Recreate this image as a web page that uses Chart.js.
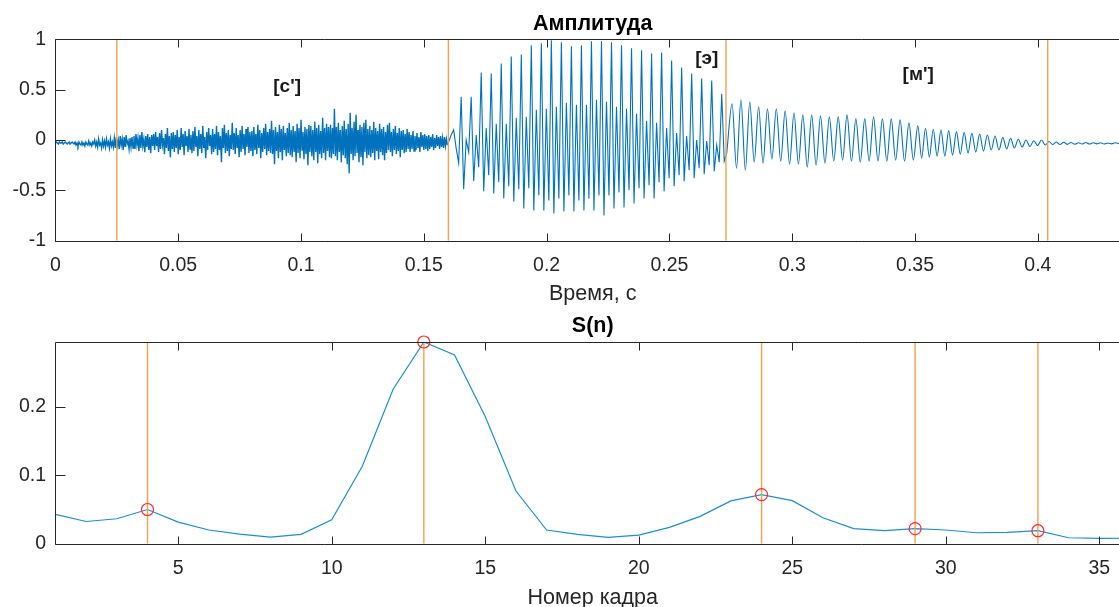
<!DOCTYPE html>
<html>
<head>
<meta charset="utf-8">
<script src="https://cdn.jsdelivr.net/npm/chart.js@4"></script>
<style>
html, body { margin: 0; padding: 0; background: #fff; overflow: hidden; width: 1119px; height: 607px; }
canvas { position: absolute; left: 0; }
#wave { top: 0; }
#energy { top: 300px; }
</style>
</head>
<body>
<canvas id="wave" width="1140" height="310"></canvas>
<canvas id="energy" width="1140" height="314"></canvas>
<script>
// --- signal ---
// fricative [с'] : 0 .. 0.16 s, one sample every 0.4 ms
const noiseStart = 0, noiseStep = 0.0004;
const noiseAmp = [
  -0.03,-0.02,-0.03,-0.04,-0.02,-0.03,-0.03,-0.02,-0.04,-0.03,-0.02,-0.03,-0.04,-0.03,-0.02,-0.04,-0.03,-0.02,-0.03,-0.04,
  -0.02,-0.05,-0.03,-0.06,-0.02,-0.04,-0.05,-0.02,-0.05,-0.03,-0.06,-0.02,-0.04,-0.05,-0.01,-0.05,-0.03,-0.06,-0.02,-0.04,
  0.00,-0.06,-0.02,-0.07,0.01,-0.05,-0.03,-0.08,0.00,-0.06,-0.01,-0.07,0.01,-0.05,-0.02,-0.08,0.01,-0.06,-0.02,-0.07,
  0.02,-0.08,0.03,-0.06,0.00,-0.09,0.04,-0.05,0.01,-0.10,0.03,-0.07,0.05,-0.04,-0.01,-0.09,0.02,-0.07,0.03,-0.08,
  0.04,-0.09,0.06,-0.05,0.02,-0.11,0.05,-0.08,0.08,-0.06,0.01,-0.12,0.04,-0.07,0.06,-0.10,0.03,-0.13,0.05,-0.06,
  0.06,-0.10,0.08,-0.06,0.03,-0.12,0.07,-0.09,0.10,-0.05,0.02,-0.14,0.06,-0.08,0.12,-0.11,0.04,-0.17,0.07,-0.09,
  0.08,-0.12,0.05,-0.08,0.10,-0.14,0.03,-0.10,0.12,-0.07,0.06,-0.15,0.09,-0.06,0.04,-0.12,0.11,-0.09,0.05,-0.13,
  0.09,-0.11,0.13,-0.07,0.04,-0.16,0.10,-0.09,0.06,-0.13,0.14,-0.08,0.03,-0.18,0.08,-0.10,0.12,-0.06,0.05,-0.14,
  0.11,-0.12,0.06,-0.09,0.14,-0.15,0.08,-0.10,0.04,-0.22,0.12,-0.08,0.15,-0.13,0.07,-0.11,0.10,-0.16,0.05,-0.09,
  0.17,-0.10,0.07,-0.14,0.12,-0.08,0.05,-0.17,0.10,-0.12,0.14,-0.09,0.06,-0.15,0.11,-0.07,0.13,-0.13,0.08,-0.11,
  0.09,-0.16,0.13,-0.10,0.06,-0.14,0.15,-0.08,0.10,-0.18,0.07,-0.12,0.12,-0.09,0.16,-0.15,0.08,-0.11,0.11,-0.13,
  0.19,-0.14,0.10,-0.24,0.13,-0.11,0.08,-0.18,0.15,-0.12,0.11,-0.20,0.14,-0.10,0.07,-0.16,0.12,-0.13,0.17,-0.15,
  0.10,-0.17,0.14,-0.12,0.09,-0.22,0.16,-0.13,0.12,-0.18,0.20,-0.10,0.08,-0.19,0.13,-0.14,0.11,-0.25,0.15,-0.12,
  0.14,-0.16,0.10,-0.20,0.18,-0.12,0.12,-0.23,0.15,-0.14,0.09,-0.18,0.22,-0.13,0.12,-0.20,0.16,-0.11,0.13,-0.17,
  0.15,-0.18,0.12,-0.14,0.31,-0.16,0.13,-0.20,0.17,-0.12,0.10,-0.22,0.14,-0.15,0.19,-0.18,0.11,-0.24,0.16,-0.33,
  0.27,-0.14,0.12,-0.20,0.18,-0.16,0.25,-0.13,0.10,-0.22,0.15,-0.17,0.13,-0.25,0.17,-0.12,0.20,-0.18,0.11,-0.15,
  0.14,-0.17,0.10,-0.13,0.18,-0.20,0.12,-0.11,0.09,-0.19,0.16,-0.12,0.11,-0.15,0.13,-0.20,0.08,-0.13,0.15,-0.10,
  0.17,-0.12,0.08,-0.16,0.11,-0.10,0.14,-0.14,0.07,-0.11,0.12,-0.17,0.09,-0.10,0.10,-0.13,0.06,-0.12,0.11,-0.09,
  0.08,-0.12,0.05,-0.09,0.09,-0.11,0.04,-0.10,0.07,-0.08,0.03,-0.12,0.08,-0.07,0.05,-0.10,0.06,-0.09,0.04,-0.11,
  0.05,-0.09,0.03,-0.07,0.06,-0.10,0.02,-0.08,0.05,-0.06,0.03,-0.09,0.04,-0.07,0.02,-0.08,0.03,-0.06,0.01,-0.05
];
// vowel [э] : quarter-period samples (peak, trough, small peak, trough)
const vowelStart = 0.1601, vowelStep = 0.00102;
const vowelAmp = [
  -0.02, 0.05, 0.10, -0.08, -0.23,
  0.43,-0.49,0.00,-0.12,  0.43,-0.41,0.05,-0.27,  0.67,-0.51,0.12,-0.35,  0.66,-0.53,0.16,-0.42,
  0.76,-0.58,0.16,-0.46,  0.83,-0.61,0.22,-0.49,  0.85,-0.68,0.23,-0.48,  0.94,-0.70,0.30,-0.55,
  0.96,-0.70,0.31,-0.60,  0.99,-0.73,0.33,-0.58,  0.97,-0.71,0.37,-0.55,  0.93,-0.71,0.35,-0.60,
  0.94,-0.70,0.35,-0.58,  0.98,-0.70,0.40,-0.55,  0.98,-0.75,0.38,-0.55,  0.97,-0.68,0.33,-0.52,
  0.94,-0.67,0.31,-0.50,  0.91,-0.63,0.26,-0.48,  0.89,-0.58,0.19,-0.45,  0.86,-0.58,0.17,-0.42,
  0.87,-0.51,0.12,-0.38,  0.79,-0.46,0.07,-0.35,  0.72,-0.41,0.04,-0.30,  0.66,-0.38,0.00,-0.28,
  0.61,-0.34,-0.01,-0.25, 0.59,-0.31,-0.05,-0.22,
  0.46,-0.21,-0.13
];
// nasal [м'] : half-period samples (peak, trough)
const nasalStart = 0.2755, nasalStep = 0.0018;
const nasalAmp = [
  0.36,-0.28, 0.40,-0.30, 0.38,-0.22, 0.33,-0.23, 0.31,-0.19, 0.31,-0.21, 0.29,-0.24, 0.27,-0.24,
  0.25,-0.27, 0.25,-0.25, 0.24,-0.23, 0.23,-0.21, 0.23,-0.20, 0.25,-0.21, 0.21,-0.22, 0.21,-0.21,
  0.23,-0.21, 0.21,-0.21, 0.21,-0.20, 0.20,-0.21, 0.17,-0.20, 0.14
];
const decayStart = 0.35267, decayStep = 0.001574;
const decayAmp = [
  -0.18,0.116, -0.17,0.107, -0.16,0.10, -0.16,0.093, -0.15,0.083, -0.14,0.076, -0.13,0.066, -0.12,0.06,
  -0.11,0.05, -0.10,0.04, -0.10,0.026, -0.09,0.017, -0.08,0.007, -0.07,0.0, -0.065,-0.007, -0.055,0.0
];
const tailStart = 0.403, tailStep = 0.0015;
const tailAmp = [
  -0.05,-0.015,-0.045,-0.02,-0.045,-0.022,-0.043,-0.025,-0.042,-0.027,-0.04,-0.025,
  -0.04,-0.028,-0.038,-0.027,-0.04,-0.03,-0.038,-0.028,-0.037,-0.03,-0.036,-0.032
];

const boundaryTimes = [0.025, 0.16, 0.273, 0.404];
const soundLabels = ["[с']", '[э]', "[м']"];
const labelTimes = [0.0887, 0.2605, 0.3449];
const labelAmps = [0.53, 0.81, 0.65];
const timeTicks = [0, 0.05, 0.1, 0.15, 0.2, 0.25, 0.3, 0.35, 0.4];
const ampTicks = [-1, -0.5, 0, 0.5, 1];

// --- S(n) per frame ---
const frames = [];
for (let n = 1; n <= 36; n++) frames.push(n);
const sValues = [
  0.043, 0.0325, 0.0365, 0.050, 0.0315, 0.020, 0.014, 0.0097, 0.0136, 0.035,
  0.1136, 0.226, 0.295, 0.276, 0.186, 0.077, 0.020, 0.0136, 0.0092, 0.0126,
  0.0238, 0.040, 0.0626, 0.0718, 0.063, 0.038, 0.022, 0.019, 0.022, 0.020,
  0.016, 0.0165, 0.019, 0.0087, 0.0078, 0.008
];
const markFrames = [4, 13, 24, 29, 33];
const frameTicks = [5, 10, 15, 20, 25, 30, 35];
const sTicks = [0, 0.1, 0.2];

const FONT = '"Liberation Sans", Arial, Helvetica, sans-serif';
const AXIS = '#262626';
const BLUE = '#0072BD';
const ORANGE = '#F5A04E';
Chart.defaults.font.family = FONT;
Chart.defaults.color = AXIS;

function segment(start, step, values) {
  return values.map((v, i) => ({ x: start + i * step, y: v }));
}
const noisePoints = segment(noiseStart, noiseStep, noiseAmp);
const vowelPoints = [noisePoints[noisePoints.length - 1]].concat(segment(vowelStart, vowelStep, vowelAmp));
const nasalPoints = [vowelPoints[vowelPoints.length - 1]].concat(
  segment(nasalStart, nasalStep, nasalAmp),
  segment(decayStart, decayStep, decayAmp),
  segment(tailStart, tailStep, tailAmp)
);

// matlab-like box with inward ticks
const axisBox = {
  id: 'axisBox',
  afterDatasetsDraw(chart) {
    const { ctx, chartArea: a, scales: { x, y } } = chart;
    const L = Math.round(a.left) + 0.5, R = Math.round(a.right) + 0.5;
    const T = Math.round(a.top) + 0.5, B = Math.round(a.bottom) + 0.5;
    ctx.save();
    ctx.strokeStyle = AXIS;
    ctx.lineWidth = 1;
    ctx.beginPath();
    ctx.rect(L, T, R - L, B - T);
    x.ticks.forEach(t => {
      const px = Math.round(x.getPixelForValue(t.value)) + 0.5;
      ctx.moveTo(px, B); ctx.lineTo(px, B - 8);
      ctx.moveTo(px, T); ctx.lineTo(px, T + 8);
    });
    y.ticks.forEach(t => {
      const py = Math.round(y.getPixelForValue(t.value)) + 0.5;
      ctx.moveTo(L, py); ctx.lineTo(L + 10, py);
      ctx.moveTo(R, py); ctx.lineTo(R - 10, py);
    });
    ctx.stroke();
    ctx.restore();
  }
};

const soundText = {
  id: 'soundText',
  afterDatasetsDraw(chart) {
    const { ctx, scales: { x, y } } = chart;
    ctx.save();
    ctx.font = 'bold 19px ' + FONT;
    ctx.fillStyle = '#1a1a1a';
    ctx.textAlign = 'left';
    ctx.textBaseline = 'middle';
    soundLabels.forEach((s, i) => {
      ctx.fillText(s, x.getPixelForValue(labelTimes[i]), y.getPixelForValue(labelAmps[i]));
    });
    ctx.restore();
  }
};

function xScale(min, max, ticks, label, boxHeight) {
  return {
    type: 'linear', min: min, max: max,
    afterBuildTicks: s => { s.ticks = ticks.map(v => ({ value: v })); },
    afterFit: s => { s.height = boxHeight; },
    ticks: { font: { size: 19.5 }, color: AXIS, padding: 13.3, maxRotation: 0, autoSkip: false, callback: v => String(v) },
    grid: { display: false, drawTicks: false, tickLength: 0 },
    border: { display: false },
    title: { display: true, text: label, font: { size: 21.5 }, color: AXIS, padding: { top: 4, bottom: 2.6 } }
  };
}
function yScale(min, max, ticks) {
  return {
    min: min, max: max,
    afterBuildTicks: s => { s.ticks = ticks.map(v => ({ value: v })); },
    afterFit: s => { s.width = 55.4; },
    ticks: { font: { size: 19.5 }, color: AXIS, padding: 9.4, autoSkip: false, callback: v => String(v) },
    grid: { display: false, drawTicks: false, tickLength: 0 },
    border: { display: false }
  };
}

new Chart(document.getElementById('wave'), {
  type: 'line',
  data: {
    datasets: boundaryTimes.map(t => ({
      data: [{ x: t, y: -1 }, { x: t, y: 1 }],
      borderColor: ORANGE, borderWidth: 1.4, pointRadius: 0, order: 0
    })).concat([
      { data: noisePoints, borderColor: BLUE, borderWidth: 1.4, pointRadius: 0, tension: 0, order: 1 },
      { data: vowelPoints, borderColor: BLUE, borderWidth: 1.1, pointRadius: 0, tension: 0, order: 1 },
      { data: nasalPoints, borderColor: BLUE, borderWidth: 1.1, pointRadius: 0, cubicInterpolationMode: 'monotone', order: 1 }
    ])
  },
  options: {
    responsive: false,
    animation: false,
    events: [],
    layout: { padding: { left: 0, right: 10, top: 0, bottom: 0 } },
    plugins: {
      legend: { display: false },
      tooltip: { enabled: false },
      title: { display: true, fullSize: false, text: 'Амплитуда', color: '#000', font: { size: 21.5, weight: 'bold' }, padding: { top: 11.6, bottom: 1.9 } }
    },
    scales: {
      x: xScale(0, 0.4375, timeTicks, 'Время, с', 69.3),
      y: yScale(-1, 1, ampTicks)
    }
  },
  plugins: [axisBox, soundText]
});

new Chart(document.getElementById('energy'), {
  type: 'line',
  data: {
    datasets: [{
      data: markFrames.map(n => ({ x: n, y: sValues[n - 1] })),
      showLine: false, pointRadius: 6, pointStyle: 'circle', pointBorderColor: '#ff2a2a',
      pointBackgroundColor: 'rgba(0,0,0,0)', pointBorderWidth: 1.2, clip: false, order: 0
    }].concat(markFrames.map(n => ({
      data: [{ x: n, y: 0 }, { x: n, y: 0.295 }],
      borderColor: ORANGE, borderWidth: 1.4, pointRadius: 0, order: 1
    }))).concat([{
      data: frames.map((n, i) => ({ x: n, y: sValues[i] })),
      borderColor: '#1a8fd6', borderWidth: 1.2, pointRadius: 0, tension: 0, order: 2
    }])
  },
  options: {
    responsive: false,
    animation: false,
    events: [],
    layout: { padding: { left: 0, right: 10, top: 0, bottom: 0 } },
    plugins: {
      legend: { display: false },
      tooltip: { enabled: false },
      title: { display: true, fullSize: false, text: 'S(n)', color: '#000', font: { size: 21.5, weight: 'bold' }, padding: { top: 13.4, bottom: 2.8 } }
    },
    scales: {
      x: xScale(1, 36, frameTicks, 'Номер кадра', 70.3),
      y: yScale(0, 0.295, sTicks)
    }
  },
  plugins: [axisBox]
});
</script>
</body>
</html>
